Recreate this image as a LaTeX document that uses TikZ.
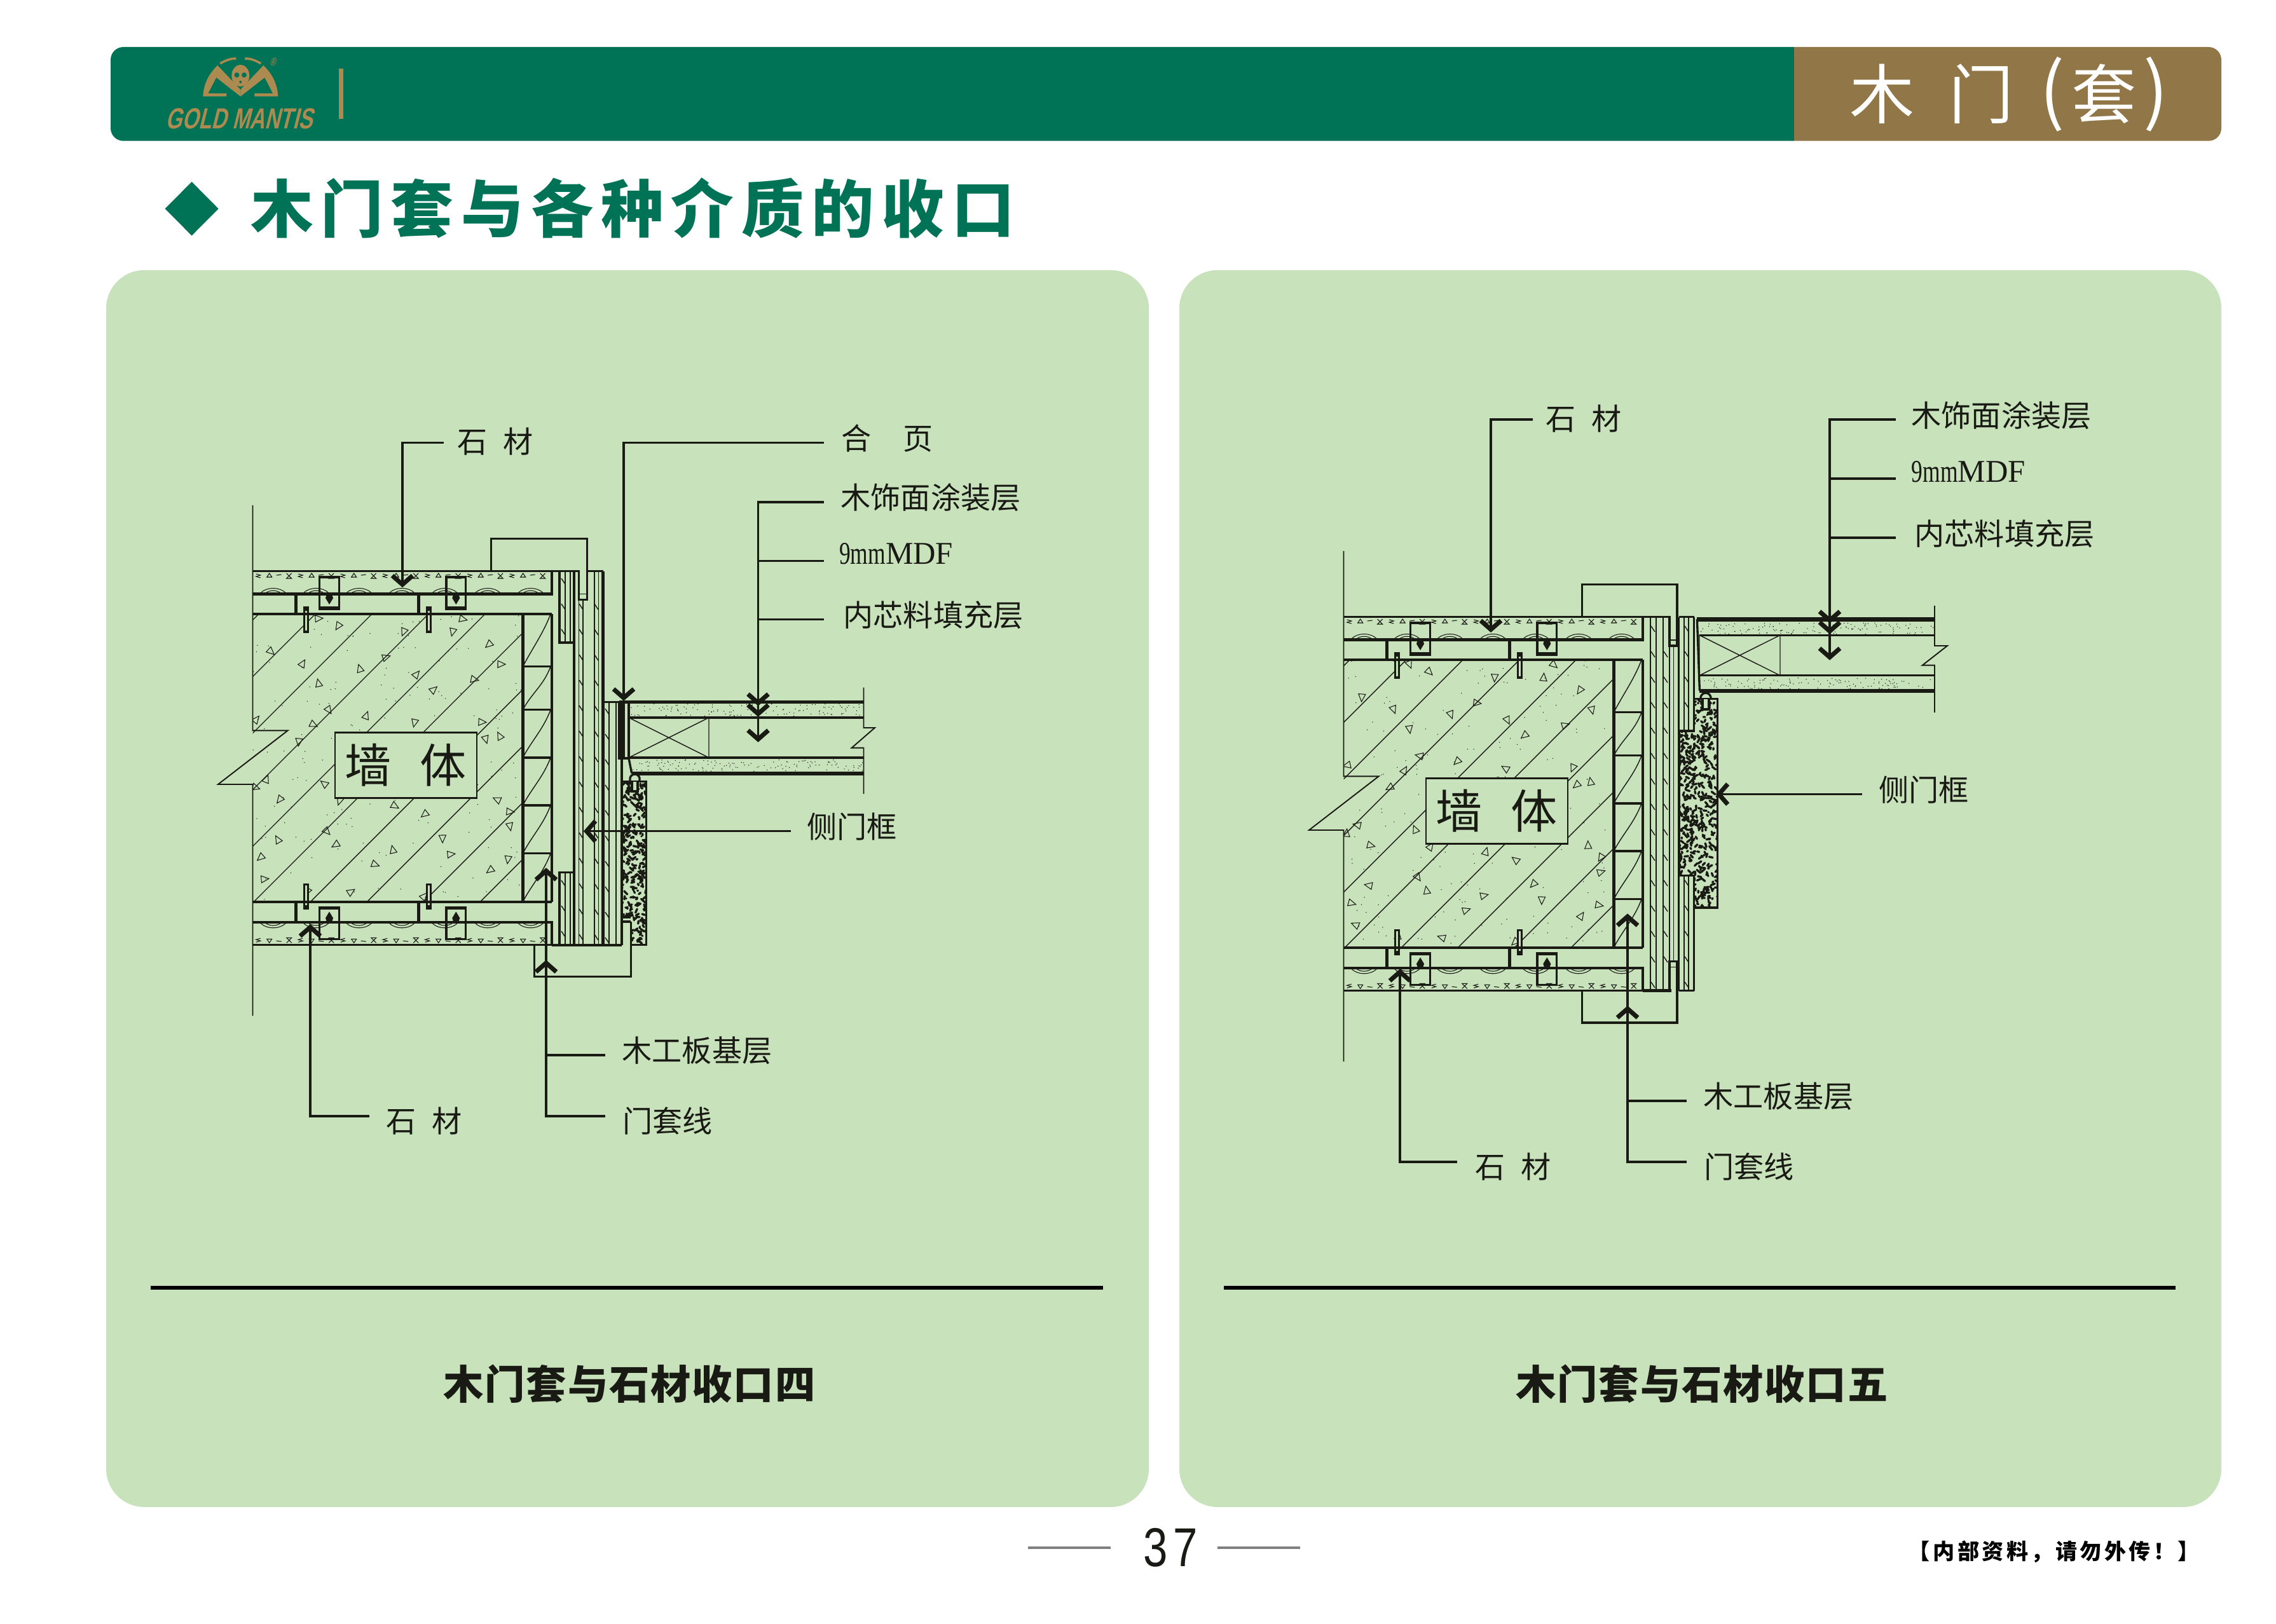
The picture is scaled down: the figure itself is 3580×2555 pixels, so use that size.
\documentclass[tikz,border=0pt]{standalone}
\usepackage{fontspec}
\newfontfamily\cjk{Noto Sans CJK SC}
\newfontfamily\titlefont[LetterSpace=12]{Noto Sans CJK SC}
\newfontfamily\captionfont[LetterSpace=3]{Noto Sans CJK SC}
\newfontfamily\notefont[LetterSpace=13]{Noto Sans CJK SC}
\newfontfamily\mdffont[FakeStretch=0.98]{Liberation Serif}
\newfontfamily\mdfnarrow[FakeStretch=0.71]{Liberation Serif}
\newfontfamily\pagefont[FakeStretch=0.8,LetterSpace=10]{Liberation Sans}
\newfontfamily\logofont[FakeStretch=0.72,FakeSlant=0.25]{Liberation Sans}
\definecolor{greenc}{HTML}{007256}
\definecolor{brownc}{HTML}{917647}
\definecolor{logoc}{HTML}{AD8A4F}
\definecolor{panelc}{HTML}{C8E2BC}
\definecolor{inkc}{HTML}{1A1A14}
\tikzset{
  hairln/.style={draw=inkc,line width=0.3pt},
  thinln/.style={draw=inkc,line width=0.4pt},
  wallln/.style={draw=inkc,line width=0.55pt},
  midln/.style={draw=inkc,line width=0.95pt},
  thkln/.style={draw=inkc,line width=1.25pt},
  heavyln/.style={draw=inkc,line width=1.7pt},
  leader/.style={draw=inkc,line width=0.95pt},
  lbl/.style={font=\cjk\fontsize{13.4}{14}\selectfont,text=inkc,inner sep=0pt,anchor=west},
  mdflbl/.style={font=\mdffont\fontsize{14.2}{15}\selectfont,text=inkc,inner sep=0pt,anchor=west},
  captionlbl/.style={font=\captionfont\bfseries\fontsize{18}{19}\selectfont,text=inkc,inner sep=0pt},
  wallbox/.style={draw=inkc,line width=0.7pt,fill=panelc,inner sep=0pt,minimum width=2.23cm,minimum height=1.03cm,font=\cjk\fontsize{20.8}{22}\selectfont,text=inkc},
  tipmark/.pic={\draw[draw=inkc,line width=2pt] (-16,-16) -- (0,-2) -- (16,-16);},
  wallblock/.pic={
    %% concrete
    \begin{scope}
      \clip (397.5,966) rectangle (822.5,1418.7);
      \foreach \k in {0,...,9}
        \draw[thinln] ({1373+89*\k-966},966) -- ({1373+89*\k-1418.7},1418.7);
      \foreach \x/\y in {501/973,532/985,426/1025,476/1044,566/1052,635/994,712/994,728/974,769/1014,
        788/1045,607/1034,655/1061,746/1069,501/1075,682/1085,517/1117,576/1126,652/1137,758/1136,
        403/1132,493/1140,470/1167,764/1163,786/1158,419/1226,510/1233,402/1239,440/1258,534/1260,
        621/1268,668/1281,782/1258,802/1277,802/1300,514/1308,437/1321,528/1329,696/1319,618/1337,
        709/1344,799/1352,410/1349,590/1360,771/1369,416/1383,552/1403,667/1410,483/1400}
      {
        \pgfmathsetmacro\ang{rnd*360}
        \draw[hairln,shift={(\x,\y)},rotate=\ang] (0,-7) -- (5.5,5) -- (-5.5,5) -- cycle;
      }
      \speckle{398}{967}{424}{451}{180}
    \end{scope}
    %% wall outline with break
    \draw[wallln] (397.5,795) -- (397.5,1149.3) -- (452.7,1149.3) -- (343,1234) -- (397.5,1234) -- (397.5,1598);
    \node[wallbox] (box) at (638.3,1203.8) {墙\hspace*{0.45cm}体};
    %% wood base boards
    \draw[thkln] (822.5,966) -- (822.5,1418.7);
    \draw[thkln] (868,966) -- (868,1418.7);
    \foreach \ya/\yb in {966/1048.7,1048.7/1116.8,1116.8/1192,1192/1267,1267/1342.7,1342.7/1418.7}
    {
      \draw[midln] (822.5,\yb) -- (868,\yb);
      \draw[thinln] (822.5,\yb) .. controls (835,{\yb-25}) and (855,{\ya+30}) .. (866,\ya);
    }
    %% stone, top and mirrored
    \halfstone
    \begin{scope}[shift={(0,2385.3)},yscale=-1]
      \halfstone
    \end{scope}
  }
}
\newcommand{\speckle}[5]{%
  \foreach \i in {1,...,#5}{
    \pgfmathsetmacro\px{#1+#3*rnd}
    \pgfmathsetmacro\py{#2+#4*rnd}
    \fill[inkc] (\px,\py) circle (0.75);
  }}
\newcommand{\blobs}[5]{%
  \foreach \i in {1,...,#5}{
    \pgfmathsetmacro\px{#1+#3*rnd}
    \pgfmathsetmacro\py{#2+#4*rnd}
    \pgfmathsetmacro\dx{6*rand}
    \pgfmathsetmacro\dy{6*rand}
    \draw[draw=inkc,line width=0.95pt,line cap=round] (\px,\py) -- ++(\dx,\dy);
  }}
\newcommand{\slashes}[2]{%
  \foreach \v in {#2}{
    \draw[thinln] (#1,\v) -- ++(6,9);
  }}
\newcommand{\halfstone}{%
  \draw[midln] (397.5,898.6) -- (868,898.6);
  %% grain of the stone
  \foreach \n in {0,...,6}{
    \pgfmathsetmacro\hx{429.7+67.5*\n}
    \draw[hairln] ({\hx-20},933) .. controls ({\hx-10},923) and ({\hx+10},923) .. ({\hx+20},933);
    \draw[hairln] ({\hx-12},933) .. controls ({\hx-5},928) and ({\hx+5},928) .. ({\hx+12},933);
    \pgfmathsetmacro\gx{406.7+66.5*\n}
    \draw[hairln] (\gx-4,903) -- (\gx+3,905) -- (\gx-4,907) -- (\gx+3,909);
    \draw[hairln] (\gx+13,908) -- (\gx+17,902) -- (\gx+21,908) -- cycle;
    \draw[hairln] (\gx+28,905) -- (\gx+36,904);
    \draw[hairln] (\gx+44,902) -- (\gx+52,910) -- (\gx+44,910) -- (\gx+52,902);
  }
  %% clips
  \foreach \dx in {0,192.9}{
    \draw[thkln] (465.4+\dx,934.6) -- (465.4+\dx,966) -- (493.5+\dx,966);
    \draw[midln,fill=panelc] (478.7+\dx,956) rectangle (484.7+\dx,994);
    \fill[inkc] (481.7+\dx,958) circle (3.5);
  }
  \foreach \dx in {0,199.3}{
    \draw[midln] (502.7+\dx,908) rectangle (533.3+\dx,958);
    \fill[inkc] (502.7+\dx,954) rectangle (533.3+\dx,959);
    \fill[inkc] (518+\dx,951) -- (512+\dx,941) -- (514+\dx,934.6) -- (522+\dx,934.6) -- (524+\dx,941) -- cycle;
  }
  \draw[thkln] (397.5,934.6) -- (868,934.6) -- (868,898.6);
  \draw[thkln] (397.5,966) -- (868,966);
}
\begin{document}
\begin{tikzpicture}[x=0.01cm,y=-0.01cm]
\useasboundingbox (0,0) rectangle (3580,2555);
\pgfmathsetseed{37}
%% header band
\fill[greenc] (2822,74) -- (194,74) [rounded corners=0.2cm] -- (174,74) -- (174,221.7) [sharp corners] -- (2822,221.7) -- cycle;
\fill[brownc] (2822,74) [rounded corners=0.2cm] -- (3494,74) -- (3494,221.7) [sharp corners] -- (2822,221.7) -- cycle;
\foreach \nodename/\x/\txt in {hdrMu/2960/木, hdrMen/3116/门, hdrTao/3309/套}
{
  \node[font=\cjk\fontsize{29}{30}\selectfont,text=white,inner sep=0pt] (\nodename) at (\x,148) {\txt};
}
\foreach \nodename/\x/\txt in {hdrOpen/3228/(, hdrClose/3391/)}
{
  \node[font=\cjk\fontsize{33}{34}\selectfont,text=white,inner sep=0pt] (\nodename) at (\x,148) {\txt};
}
%% logo
\foreach \s in {1,-1}
{
  \begin{scope}[shift={(378.3,0)},xscale=\s]
    \fill[logoc] (-59,151.7) .. controls (-58,130) and (-48,114) .. (-36,103) -- (0,141) -- (0,151.7) -- (-38,122) -- (-51,147) -- (-22,147) -- (-22,151.7) -- cycle;
    \draw[draw=logoc,line width=1pt] (-32,100) .. controls (-22,94) and (-14,92) .. (-7,92);
  \end{scope}
}
\fill[logoc] (378.3,119) ellipse (14 and 17);
\fill[greenc] (372.5,118) circle (4) (384,118) circle (4) (378.3,129) circle (2);
\fill[logoc] (533,108) rectangle (540,187);
\node[font=\logofont\bfseries\fontsize{13}{14}\selectfont,text=logoc,inner sep=0pt] (logoText) at (376,187) {GOLD MANTIS};
\node[font=\logofont\fontsize{5}{5}\selectfont,text=logoc,inner sep=0pt] (logoReg) at (429,97) {®};
%% title
\fill[greenc] (259.6,328.4) -- (301.6,286) -- (343.6,328.4) -- (301.6,370.7) -- cycle;
\node[font=\titlefont\bfseries\fontsize{28}{29}\selectfont,text=greenc,inner sep=0pt,anchor=west] (titleText) at (393.6,328) {木门套与各种介质的收口};
%% panels
\fill[panelc,rounded corners=0.6cm] (167,425) rectangle (1807,2371);
\fill[panelc,rounded corners=0.6cm] (1855,425) rectangle (3494,2371);
\foreach \nodename/\xa/\xb in {ruleL/237/1735, ruleR/1925/3422}
{
  \coordinate (\nodename a) at (\xa,2026);
  \coordinate (\nodename b) at (\xb,2026);
  \draw[draw=black,line width=1.45pt] (\nodename a) -- (\nodename b);
}
\node[captionlbl] (captionL) at (990,2177) {木门套与石材收口四};
\node[captionlbl] (captionR) at (2677,2177) {木门套与石材收口五};
%% footer
\node[font=\pagefont\fontsize{24.5}{25}\selectfont,text=inkc,inner sep=0pt] (pageNo) at (1841,2435) {37};
\foreach \nodename/\xa/\xb in {dashL/1617/1747, dashR/1915/2045}
{
  \coordinate (\nodename a) at (\xa,2435);
  \coordinate (\nodename b) at (\xb,2435);
  \draw[draw=gray,line width=1.3pt] (\nodename a) -- (\nodename b);
}
\node[font=\notefont\bfseries\fontsize{9.7}{10}\selectfont,text=black,inner sep=0pt] (noteText) at (3231,2441) {【内部资料，请勿外传！】};
%% both walls
\pic (wallL) at (0,0) {wallblock};
\pic (wallR) at (1716,72) {wallblock};
%% left casing
\draw[midln] (868,898.6) -- (910.3,898.6) -- (910.3,943.8) -- (923.6,943.8) -- (923.6,847.7) -- (772.5,847.7) -- (772.5,898.6);
\draw[thinln] (910.3,934.6) -- (923.6,934.6);
\draw[midln] (923.6,898.6) -- (948.6,898.6);
\draw[thkln] (948.6,898.6) -- (948.6,1486.7);
\draw[midln] (880,898.6) -- (880,1011) -- (903,1011);
\draw[midln] (880,1486.7) -- (880,1372.7) -- (903,1372.7);
\draw[midln] (903,898.6) -- (903,1486.7);
\foreach \x in {889,897}
{
  \draw[thinln] (\x,898.6) -- (\x,1011);
  \draw[thinln] (\x,1372.7) -- (\x,1486.7);
}
\slashes{883}{910,950,...,1000}
\slashes{883}{1385,1425,...,1470}
\foreach \x/\ystart in {917/943.8,934.8/898.6,941.4/898.6}
{
  \draw[thinln] (\x,\ystart) -- (\x,1486.7);
}
\draw[thinln] (910.3,943.8) -- (910.3,1486.7);
\slashes{911}{950,990,...,1480}
\slashes{935}{950,990,...,1480}
%% left jamb strip
\draw[midln] (978,1104.5) -- (978,1486.7);
\foreach \x in {958,969}
{
  \draw[thinln] (\x,1104.5) -- (\x,1486.7);
}
\slashes{952}{1115,1155,...,1480}
%% left side frame
\begin{scope}
  \clip (978,1229.7) -- (1016.4,1229.7) -- (1016.4,1486.7) -- (992.4,1486.7) -- (992.4,1443) -- (978,1443) -- cycle;
  \blobs{976}{1228}{42}{262}{310}
\end{scope}
\draw[midln] (978,1443) -- (978,1229.7) -- (1016.4,1229.7) -- (1016.4,1486.7) -- (992.4,1486.7);
\draw[midln] (978,1443) -- (992.4,1443) (978,1450) -- (992.4,1450);
\draw[thkln] (868,1486.7) -- (978,1486.7);
\draw[midln] (840.4,1486.7) -- (840.4,1536.7) -- (992.4,1536.7) -- (992.4,1450);
\fill[panelc] (994,1230) rectangle (1003,1245);
\draw[midln] (994,1230) -- (994,1245) -- (1003,1245) -- (1003,1230);
\draw[midln] (991,1230) -- (991,1224) .. controls (993,1216) and (1004,1216) .. (1006,1224) -- (1006,1230);
%% left door
\draw[midln] (948.6,1104.5) -- (974,1104.5);
\draw[heavyln] (974,1104.5) -- (1358.5,1104.5);
\draw[midln] (989,1129) -- (1358.5,1129);
\draw[midln] (989,1192) -- (1358.5,1192);
\draw[heavyln] (993.7,1216.7) -- (1358.5,1216.7);
\draw[thkln] (989,1104.5) -- (989,1192);
\draw[thkln] (974,1104.5) -- (974,1193) -- (989,1193);
\draw[thkln] (981,1104.5) -- (981,1193);
\draw[midln] (989,1193) -- (993.7,1216.7);
\draw[thinln] (989,1129) rectangle (1115,1192) (989,1129) -- (1115,1192) (989,1192) -- (1115,1129);
\speckle{992}{1107}{365}{20}{130}
\speckle{995}{1195}{362}{19}{130}
\draw[wallln] (1358.5,1081.7) -- (1358.5,1145) -- (1376,1145) -- (1339.5,1176.7) -- (1358.5,1176.7) -- (1358.5,1249);
%% right casing
\draw[midln] (2584,970.6) -- (2626,970.6) -- (2626,1016) -- (2638,1016) -- (2638,919.6) -- (2488.5,919.6) -- (2488.5,970.6);
\draw[thinln] (2626,1007) -- (2638,1007);
\draw[midln] (2640.6,970.6) -- (2664.7,970.6);
\draw[midln] (2640.6,970.6) -- (2640.6,1150);
\draw[midln] (2640.6,1377.7) -- (2640.6,1558.5);
\draw[midln] (2664.7,970.6) -- (2664.7,1150);
\draw[midln] (2664.7,1377.7) -- (2664.7,1558.5);
\draw[midln] (2626,1558.5) -- (2626,1512.5) -- (2638,1512.5) -- (2638,1609) -- (2488.5,1609) -- (2488.5,1558.5);
\draw[thinln] (2626,1521.4) -- (2638,1521.4);
\foreach \x in {2596,2605,2616}
{
  \draw[thinln] (\x,970.6) -- (\x,1558.5);
}
\draw[thinln] (2626,1016) -- (2626,1512.5);
\draw[thinln] (2632.6,1016) -- (2632.6,1512.5);
\foreach \x in {2649,2656}
{
  \draw[thinln] (\x,970.6) -- (\x,1150);
  \draw[thinln] (\x,1377.7) -- (\x,1558.5);
}
\draw[thkln] (2584,1558.5) -- (2629,1558.5);
\draw[midln] (2640.6,1558.5) -- (2664.7,1558.5);
\slashes{2597}{985,1025,...,1550}
\slashes{2617}{1025,1065,...,1505}
\slashes{2650}{985,1025,...,1140}
\slashes{2650}{1385,1425,...,1550}
%% right side frame
\begin{scope}
  \clip (2664.7,1099.6) -- (2701.6,1099.6) -- (2701.6,1428) -- (2664.7,1428) -- (2664.7,1377.7) -- (2641,1377.7) -- (2641,1150) -- (2664.7,1150) -- cycle;
  \blobs{2639}{1098}{65}{332}{540}
\end{scope}
\draw[midln] (2664.7,1099.6) -- (2701.6,1099.6) -- (2701.6,1428) -- (2664.7,1428) -- (2664.7,1377.7) -- (2641,1377.7) -- (2641,1150) -- (2664.7,1150) -- cycle;
\fill[panelc] (2678,1100) rectangle (2688,1116);
\draw[midln] (2678,1100) -- (2678,1116) -- (2688,1116) -- (2688,1100);
\draw[midln] (2675,1100) -- (2675,1097) .. controls (2677,1088) and (2689,1088) .. (2691,1097) -- (2691,1100);
%% right door
\draw[heavyln] (2669,974) -- (3043,974);
\draw[thinln] (2669,977.3) -- (3043,977.3);
\draw[midln] (2673,999.3) -- (3043,999.3);
\draw[midln] (2673,1062.7) -- (3043,1062.7);
\draw[heavyln] (2673.4,1086.7) -- (3043,1086.7);
\draw[midln] (2669.4,974) -- (2673.4,1086.7);
\draw[thinln] (2673,999.3) rectangle (2800,1062.7) (2673,999.3) -- (2800,1062.7) (2673,1062.7) -- (2800,999.3);
\speckle{2674}{980}{367}{18}{130}
\speckle{2676}{1066}{365}{19}{130}
\draw[wallln] (3043,953) -- (3043,1016) -- (3063,1016) -- (3023.7,1046.7) -- (3043,1046.7) -- (3043,1121);
%% leader points
\foreach \nodename/\x/\y in {
  tipStoneTL/633/921.6, kneeStoneTL/633/696.7, endStoneTL/698/696.7,
  tipHingeL/981/1100, kneeHingeL/981/696.7, endHingeL/1296/696.7,
  tipFaceL/1192.5/1108, tipMdfL/1192.5/1125, tipCoreL/1192.5/1165,
  kneeFaceL/1192.5/790, endFaceL/1296/790,
  kneeMdfL/1192.5/882.7, endMdfL/1296/882.7,
  kneeCoreL/1192.5/974.3, endCoreL/1296/974.3,
  tipFrameL/920.6/1307.7, endFrameL/1243.5/1307.7,
  tipStoneBL/488/1456.7, kneeStoneBL/488/1756, endStoneBL/580.5/1756,
  tipBoardL/859/1368, tipTrimL/859/1513,
  kneeBoardL/859/1660, endBoardL/952/1660,
  kneeTrimL/859/1756, endTrimL/952/1756,
  tipStoneTR/2345/992.4, kneeStoneTR/2345/660, endStoneTR/2411/660,
  tipFaceR/2878/978, tipMdfR/2878/995, tipCoreR/2878/1036,
  kneeFaceR/2878/660, endFaceR/2981.6/660,
  kneeMdfR/2878/753, endMdfR/2981.6/753,
  kneeCoreR/2878/846, endCoreR/2981.6/846,
  tipFrameR/2701.6/1249.5, endFrameR/2929/1249.5,
  tipStoneBR/2202/1527, kneeStoneBR/2202/1828, endStoneBR/2292/1828,
  tipBoardR/2560/1440, tipTrimR/2560/1585,
  kneeBoardR/2560/1732, endBoardR/2653/1732,
  kneeTrimR/2560/1828, endTrimR/2653/1828}
{
  \coordinate (\nodename) at (\x,\y);
}
\draw[leader] (tipStoneTL) -- (kneeStoneTL) -- (endStoneTL);
\draw[leader] (tipHingeL) -- (kneeHingeL) -- (endHingeL);
\draw[leader] (tipCoreL) -- (kneeFaceL) -- (endFaceL);
\draw[leader] (kneeMdfL) -- (endMdfL);
\draw[leader] (kneeCoreL) -- (endCoreL);
\draw[leader] (tipFrameL) -- (endFrameL);
\draw[leader] (tipStoneBL) -- (kneeStoneBL) -- (endStoneBL);
\draw[leader] (tipBoardL) -- (kneeTrimL) -- (endTrimL);
\draw[leader] (kneeBoardL) -- (endBoardL);
\draw[leader] (tipStoneTR) -- (kneeStoneTR) -- (endStoneTR);
\draw[leader] (tipCoreR) -- (kneeFaceR) -- (endFaceR);
\draw[leader] (kneeMdfR) -- (endMdfR);
\draw[leader] (kneeCoreR) -- (endCoreR);
\draw[leader] (tipFrameR) -- (endFrameR);
\draw[leader] (tipStoneBR) -- (kneeStoneBR) -- (endStoneBR);
\draw[leader] (tipBoardR) -- (kneeTrimR) -- (endTrimR);
\draw[leader] (kneeBoardR) -- (endBoardR);
\foreach \nodename/\ang in {tipStoneTL/0, tipHingeL/0, tipFaceL/0, tipMdfL/0, tipCoreL/0, tipFrameL/-90,
  tipStoneBL/180, tipBoardL/180, tipTrimL/180, tipStoneTR/0, tipFaceR/0, tipMdfR/0, tipCoreR/0,
  tipFrameR/-90, tipStoneBR/180, tipBoardR/180, tipTrimR/180}
{
  \pic[rotate=\ang] at (\nodename) {tipmark};
}
%% labels
\foreach \nodename/\x/\y/\txt in {
  lblStoneTL/719/695/石\hspace*{0.25cm}材, lblHingeL/1323/690/合\hspace*{0.5cm}页,
  lblFaceL/1322/783/木饰面涂装层, lblCoreL/1326/968/内芯料填充层,
  lblFrameL/1269/1301/侧门框, lblStoneBL/607/1764/石\hspace*{0.25cm}材,
  lblBoardL/978/1653/木工板基层, lblTrimL/979/1764/门套线,
  lblStoneTR/2430.6/658.5/石\hspace*{0.25cm}材, lblFaceR/3006/654/木饰面涂装层,
  lblCoreR/3011/840/内芯料填充层, lblFrameR/2955/1243/侧门框,
  lblStoneBR/2320/1836/石\hspace*{0.25cm}材, lblBoardR/2679/1725/木工板基层,
  lblTrimR/2680/1836/门套线}
{
  \node[lbl] (\nodename) at (\x,\y) {\txt};
}
\node[mdflbl] (lblMdfL) at (1319.5,871) {{\mdfnarrow 9mm}MDF};
\node[mdflbl] (lblMdfR) at (3006,742) {{\mdfnarrow 9mm}MDF};
\end{tikzpicture}
\end{document}
